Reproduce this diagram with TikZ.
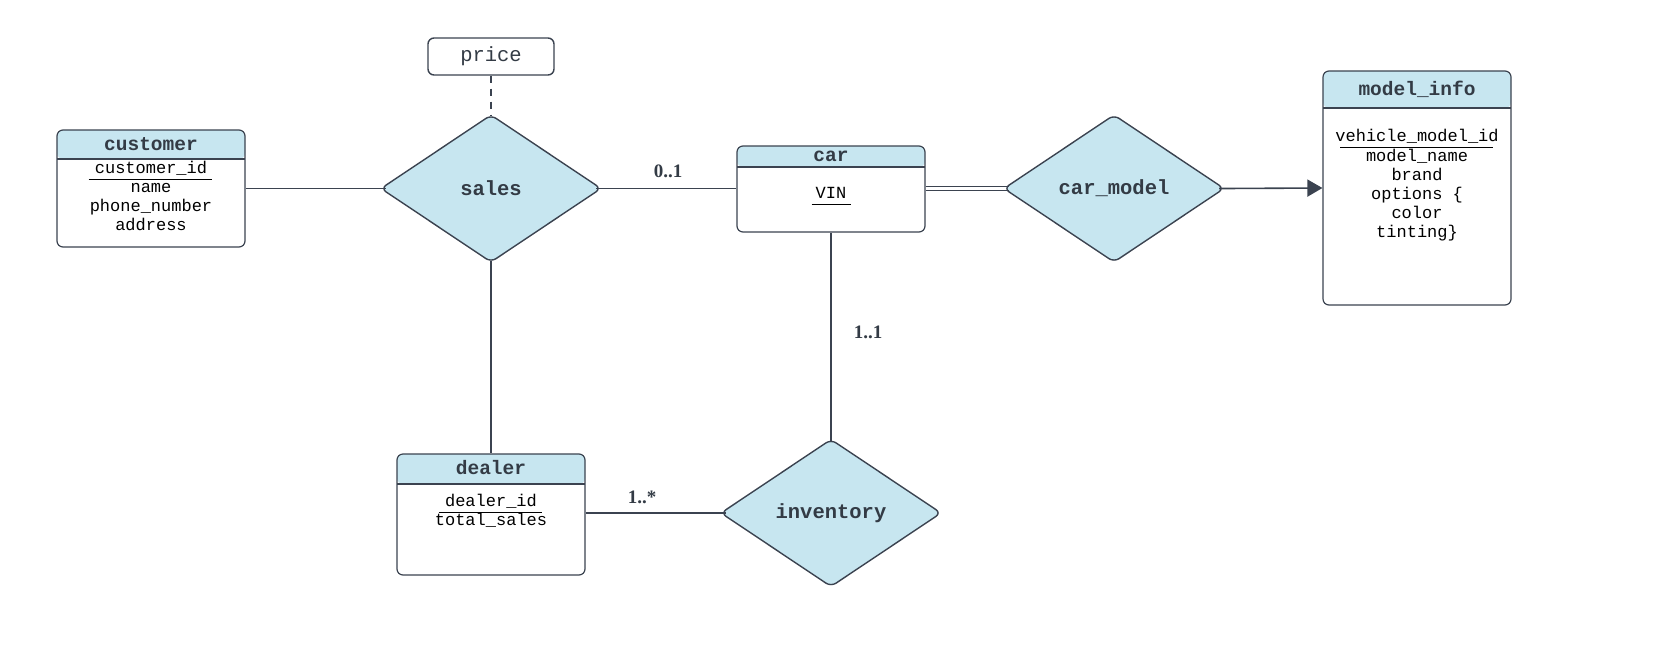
\documentclass[tikz,border=0pt]{standalone}
\usepackage{fontspec}
\setmainfont{Liberation Serif}
\setmonofont{Liberation Mono}
\usetikzlibrary{shapes.geometric,arrows.meta}
\definecolor{ln}{HTML}{3B4350}
\definecolor{tx}{HTML}{333B45}
\definecolor{hdr}{HTML}{C7E6F0}
\begin{document}
\begin{tikzpicture}[x=1pt,y=-1pt,
  entity/.style={draw=ln, line width=1.2pt, rounded corners=6pt, fill=white, inner sep=0pt,
    path picture={\fill[hdr] (path picture bounding box.north west) rectangle ([yshift=-#1pt]path picture bounding box.north east);
      \draw[ln, line width=1.2pt] ([yshift=-#1pt]path picture bounding box.north west) -- ([yshift=-#1pt]path picture bounding box.north east);}},
  hdrtext/.style={font=\ttfamily\bfseries\fontsize{19.5}{22}\selectfont, text=tx, inner sep=0pt},
  attr/.style={font=\ttfamily\fontsize{17}{19}\selectfont, text=black, inner sep=0pt, text height=9pt, text depth=2pt},
  rel/.style={diamond, draw=ln, line width=1.4pt, fill=hdr, rounded corners=6pt, inner sep=0pt, outer sep=0pt,
    minimum width=220pt, minimum height=147pt, font=\ttfamily\bfseries\fontsize{20.5}{24}\selectfont, text=tx},
  card/.style={font=\bfseries\fontsize{19}{22}\selectfont, text=tx, inner sep=0pt},
  conn/.style={draw=ln, line width=1.6pt},
  uline/.style={draw=black, line width=1.3pt}]
\useasboundingbox (0,0) rectangle (1660,665);
% entities
\node[entity=29, minimum width=188pt, minimum height=117pt] (customer) at (151,188.5) {};
\node[entity=21, minimum width=188pt, minimum height=86pt] (car) at (831,189) {};
\node[entity=37, minimum width=188pt, minimum height=234pt] (modelinfo) at (1417,188) {};
\node[entity=30, minimum width=188pt, minimum height=121pt] (dealer) at (491,514.5) {};
\node[draw=ln, line width=1.4pt, rounded corners=6pt, fill=white, minimum width=126pt, minimum height=37pt,
  inner sep=0pt, font=\ttfamily\fontsize{20.5}{24}\selectfont, text=tx] (price) at (491,56.5) {price};
% headers
\node[hdrtext] (customerh) at (151,144) {customer};
\node[hdrtext] (carh) at (831,156) {car};
\node[hdrtext] (modelinfoh) at (1417,89) {model\_info};
\node[hdrtext] (dealerh) at (491,468) {dealer};
% attributes
\node[attr] (cid) at (151,170) {customer\_id};
\node[attr] (cname) at (151,189) {name};
\node[attr] (cphone) at (151,208) {phone\_number};
\node[attr] (caddr) at (151,227) {address};
\node[attr] (vin) at (831,195) {VIN};
\node[attr] (vmid) at (1417,138) {vehicle\_model\_id};
\node[attr] (mname) at (1417,158) {model\_name};
\node[attr] (brand) at (1417,177) {brand};
\node[attr] (opts) at (1417,196) {options \{};
\node[attr] (color) at (1417,215) {color};
\node[attr] (tint) at (1417,234) {tinting\}};
\node[attr] (did) at (491,503) {dealer\_id};
\node[attr] (tsales) at (491,522) {total\_sales};
% underlines
\draw[uline] ([xshift=-6pt,yshift=-6pt]cid.base west) -- ([xshift=5pt,yshift=-6pt]cid.base east);
\draw[uline] ([xshift=-4pt,yshift=-6pt]vin.base west) -- ([xshift=4pt,yshift=-6pt]vin.base east);
\draw[uline] ([xshift=5pt,yshift=-6pt]vmid.base west) -- ([xshift=-6pt,yshift=-6pt]vmid.base east);
\draw[uline] ([xshift=-6pt,yshift=-6pt]did.base west) -- ([xshift=5pt,yshift=-6pt]did.base east);
% relationships
\node[rel] (sales) at (491,188.5) {sales};
\node[rel] (carmodel) at (1114,188.5) {car\_model};
\node[rel] (inventory) at (831,513) {inventory};
% connectors
\draw[conn, shorten >=-4.8pt] (customer.east) -- (sales.west);
\draw[conn, shorten <=-4.8pt] (sales.east) -- (sales.east -| car.west);
\draw[conn, shorten <=-1.2pt] (sales.south) -- (dealer.north);
\draw[conn, shorten >=-1.2pt] (car.south) -- (inventory.north);
\draw[conn, shorten >=-4.8pt] (dealer.east |- inventory.west) -- (inventory.west);
\draw[conn, line width=1.3pt, shorten >=-5pt] ([yshift=2pt]car.east |- carmodel.west) -- ([yshift=2pt]carmodel.west);
\draw[conn, line width=1.3pt, shorten >=-5pt] ([yshift=-2pt]car.east |- carmodel.west) -- ([yshift=-2pt]carmodel.west);
\draw[conn, -{Triangle[length=15pt,width=17pt]}, shorten <=-4.8pt] (carmodel.east) -- (modelinfo.west);
\draw[conn, dash pattern=on 7pt off 6pt, shorten >=-1.2pt] (price.south) -- (sales.north);
% cardinalities
\node[card] (c01) at (668,171) {0..1};
\node[card] (c11) at (868,332) {1..1};
\node[card] (c1n) at (642,497) {1..*};
\end{tikzpicture}
\end{document}
